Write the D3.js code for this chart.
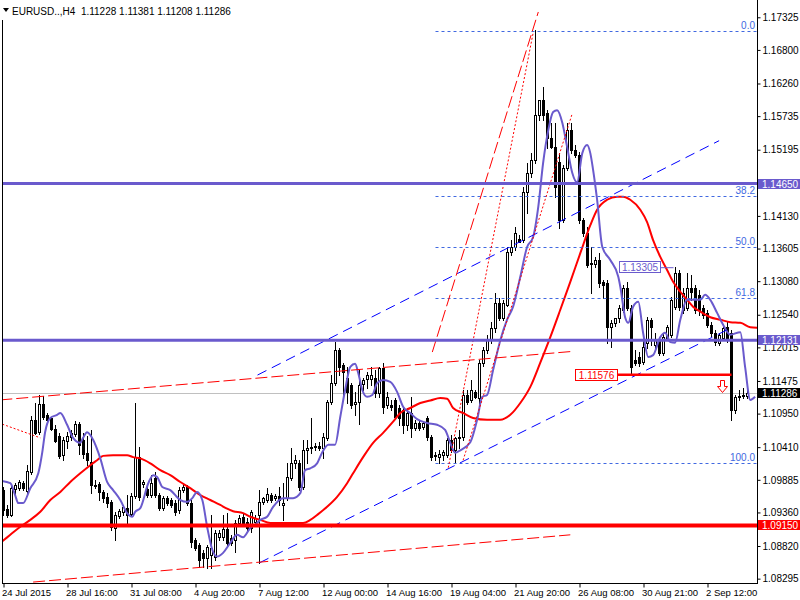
<!DOCTYPE html>
<html><head><meta charset="utf-8">
<script src="https://cdn.jsdelivr.net/npm/d3@7"></script>
<style>body{margin:0;background:#fff}svg text{font-family:"Liberation Sans",Arial,sans-serif}</style>
</head><body><svg id="c" width="800" height="600"></svg>
<script>
const headerText = "EURUSD..,H4  1.11228 1.11381 1.11208 1.11286";
const opens = [1.0972,1.0942,1.0932,1.0974,1.0975,1.0983,1.0971,1.1001,1.1085,1.1065,1.1111,1.1093,1.1088,1.1070,1.1059,1.1028,1.1051,1.1057,1.1062,1.1078,1.1053,1.1032,1.1017,1.0980,1.0982,1.0969,1.0961,1.0953,1.0911,1.0930,1.0937,1.0943,1.0933,1.0962,1.1025,1.0982,1.0974,1.0964,1.0991,1.0964,1.0943,1.0959,1.0956,1.0951,1.0940,1.0972,1.0977,1.0951,1.0892,1.0884,1.0871,1.0863,1.0868,1.0865,1.0896,1.0896,1.0909,1.0895,1.0892,1.0919,1.0929,1.0921,1.0911,1.0921,1.0932,1.0953,1.0956,1.0964,1.0959,1.0962,1.0948,1.0959,1.0991,1.1015,1.1015,1.0977,1.1036,1.1040,1.1041,1.1043,1.1040,1.1056,1.1114,1.1144,1.1197,1.1173,1.1152,1.1141,1.1111,1.1114,1.1143,1.1151,1.1151,1.1152,1.1128,1.1168,1.1109,1.1109,1.1117,1.1104,1.1101,1.1077,1.1096,1.1072,1.1080,1.1073,1.1088,1.1057,1.1028,1.1025,1.1028,1.1028,1.1053,1.1036,1.1056,1.1057,1.1125,1.1117,1.1130,1.1120,1.1177,1.1197,1.1213,1.1233,1.1273,1.1249,1.1270,1.1355,1.1363,1.1376,1.1374,1.1451,1.1482,1.1503,1.1575,1.1600,1.1579,1.1538,1.1524,1.1500,1.1406,1.1490,1.1551,1.1519,1.1511,1.1406,1.1386,1.1337,1.1336,1.1342,1.1307,1.1305,1.1234,1.1241,1.1249,1.1262,1.1297,1.1265,1.1181,1.1186,1.1178,1.1209,1.1246,1.1205,1.1213,1.1192,1.1217,1.1222,1.1267,1.1321,1.1262,1.1265,1.1297,1.1297,1.1286,1.1265,1.1257,1.1238,1.1225,1.1209,1.1217,1.1234,1.1225,1.1101,1.1122,1.1123,1.11228];
const highs = [1.0977,1.0948,1.0980,1.0983,1.0988,1.0986,1.1012,1.1091,1.1112,1.1125,1.1123,1.1096,1.1090,1.1077,1.1064,1.1057,1.1065,1.1069,1.1083,1.1082,1.1064,1.1059,1.1069,1.0988,1.0985,1.0972,1.0967,1.0956,1.0937,1.0942,1.0948,1.0964,1.0967,1.1112,1.1041,1.0988,1.0977,1.0996,1.1001,1.0967,1.0962,1.0962,1.0959,1.0956,1.0977,1.0980,1.0980,1.0956,1.0895,1.0887,1.0876,1.0884,1.0932,1.0908,1.0908,1.0932,1.0935,1.0900,1.0924,1.0932,1.0935,1.0927,1.0940,1.0932,1.0972,1.0961,1.0975,1.0967,1.0966,1.0977,1.0983,1.1015,1.1040,1.1028,1.1020,1.1053,1.1053,1.1088,1.1048,1.1049,1.1064,1.1117,1.1157,1.1210,1.1201,1.1177,1.1170,1.1144,1.1130,1.1165,1.1152,1.1162,1.1170,1.1165,1.1170,1.1177,1.1130,1.1117,1.1120,1.1109,1.1106,1.1104,1.1122,1.1085,1.1085,1.1083,1.1091,1.1061,1.1033,1.1036,1.1036,1.1056,1.1061,1.1057,1.1069,1.1133,1.1133,1.1149,1.1133,1.1181,1.1202,1.1222,1.1242,1.1289,1.1281,1.1278,1.1363,1.1374,1.1395,1.1383,1.1459,1.1498,1.1514,1.1712,1.1600,1.1620,1.1583,1.1563,1.1563,1.1514,1.1495,1.1563,1.1563,1.1527,1.1516,1.1410,1.1395,1.1363,1.1347,1.1353,1.1310,1.1310,1.1246,1.1249,1.1270,1.1302,1.1307,1.1270,1.1197,1.1194,1.1213,1.1250,1.1249,1.1225,1.1218,1.1225,1.1238,1.1283,1.13305,1.1326,1.1297,1.1321,1.1318,1.1302,1.1294,1.1270,1.1262,1.1242,1.1230,1.1225,1.1238,1.1242,1.1230,1.1125,1.1133,1.1136,1.11381];
const lows = [1.0932,1.0929,1.0930,1.0961,1.0972,1.0972,1.0967,1.0998,1.1062,1.1062,1.1086,1.1082,1.1069,1.1049,1.1023,1.1020,1.1040,1.1053,1.1059,1.1030,1.1023,1.1012,1.0967,1.0975,1.0956,1.0953,1.0945,1.0908,1.0892,1.0927,1.0932,1.0919,1.0930,1.0959,1.0956,1.0977,1.0961,1.0961,1.0961,1.0940,1.0940,1.0948,1.0945,1.0932,1.0935,1.0969,1.0948,1.0880,1.0876,1.0849,1.0849,1.0847,1.0847,1.0860,1.0892,1.0892,1.0884,1.0884,1.0872,1.0916,1.0916,1.0908,1.0905,1.0916,1.0855,1.0949,1.0953,1.0953,1.0956,1.0948,1.0924,1.0956,1.0988,1.1007,1.0972,1.0974,1.1015,1.1032,1.1036,1.1036,1.1023,1.1053,1.1111,1.1141,1.1157,1.1122,1.1112,1.1104,1.1093,1.1078,1.1133,1.1136,1.1141,1.1122,1.1122,1.1096,1.1104,1.1101,1.1088,1.1077,1.1064,1.1069,1.1057,1.1069,1.1069,1.1070,1.1053,1.1020,1.1020,1.1015,1.1020,1.1025,1.1033,1.1015,1.1040,1.1053,1.1111,1.1114,1.1120,1.1106,1.1172,1.1192,1.1209,1.1226,1.1246,1.1246,1.1268,1.1350,1.1358,1.1371,1.1371,1.1418,1.1476,1.1498,1.1567,1.1567,1.1522,1.1522,1.1443,1.1394,1.1403,1.1487,1.1514,1.1508,1.1401,1.1381,1.1331,1.1289,1.1331,1.1299,1.1281,1.1209,1.1202,1.1236,1.1242,1.1259,1.1262,1.11576,1.1173,1.1172,1.1175,1.1201,1.1205,1.1201,1.1189,1.1189,1.1213,1.1218,1.1263,1.1262,1.1257,1.1262,1.1278,1.1257,1.1254,1.1249,1.1234,1.1220,1.1205,1.1205,1.1213,1.1210,1.1085,1.1096,1.1117,1.1120,1.11208];
const closes = [1.0940,1.0932,1.0975,1.0980,1.0985,1.0975,1.1003,1.1085,1.1064,1.1111,1.1090,1.1085,1.1070,1.1051,1.1027,1.1053,1.1059,1.1064,1.1078,1.1045,1.1030,1.1020,1.0980,1.0978,1.0969,1.0959,1.0951,1.0913,1.0932,1.0938,1.0945,1.0932,1.0962,1.1025,1.0961,1.0985,1.0964,1.0983,1.0964,1.0943,1.0959,1.0951,1.0948,1.0937,1.0972,1.0977,1.0951,1.0888,1.0879,1.0860,1.0863,1.0880,1.0879,1.0903,1.0903,1.0909,1.0887,1.0887,1.0919,1.0927,1.0919,1.0911,1.0937,1.0927,1.0953,1.0959,1.0966,1.0956,1.0962,1.0956,1.0951,1.0993,1.1015,1.1020,1.0977,1.1036,1.1040,1.1041,1.1043,1.1040,1.1057,1.1114,1.1144,1.1197,1.1170,1.1162,1.1130,1.1109,1.1114,1.1141,1.1149,1.1157,1.1157,1.1128,1.1168,1.1106,1.1122,1.1106,1.1090,1.1088,1.1077,1.1096,1.1072,1.1080,1.1072,1.1080,1.1057,1.1025,1.1027,1.1030,1.1033,1.1053,1.1036,1.1056,1.1057,1.1125,1.1114,1.1133,1.1122,1.1177,1.1197,1.1213,1.1233,1.1273,1.1249,1.1273,1.1355,1.1363,1.1386,1.1371,1.1451,1.1482,1.1503,1.1575,1.1600,1.1575,1.1538,1.1524,1.1459,1.1406,1.1490,1.1551,1.1519,1.1511,1.1406,1.1386,1.1334,1.1336,1.1342,1.1305,1.1302,1.1234,1.1241,1.1249,1.1265,1.1297,1.1265,1.1170,1.1177,1.1177,1.1202,1.1246,1.1234,1.1213,1.1192,1.1218,1.1234,1.1278,1.1321,1.1267,1.1289,1.1297,1.1291,1.1262,1.1262,1.1254,1.1238,1.1225,1.1210,1.1222,1.1233,1.1213,1.1101,1.1122,1.1123,1.1125,1.11286];

const fastMaIdx = [-0.8,1.7,2.9,3.7,4.9,6.7,8.7,9.7,10.4,11.7,13.4,14.2,15.9,17.4,19.2,19.9,20.9,22.4,24.2,25.9,27.4,29.2,30.9,32.2,32.9,34.2,36.2,37.4,38.4,39.7,41.7,44.2,45.9,47.2,48.4,49.7,50.9,52.2,53.4,54.9,56.7,58.4,59.9,61.7,62.9,64.2,65.9,67.4,69.9,72.4,74.2,75.4,76.7,78.4,79.7,81.2,82.9,84.2,85.4,86.7,87.9,88.7,89.7,90.9,92.2,93.4,94.9,96.7,98.4,99.9,101.7,103.4,105.9,108.4,110.4,111.7,112.9,114.2,116.7,118.4,119.7,120.9,122.4,124.2,125.9,127.4,129.2,130.9,132.4,133.7,134.9,136.2,137.4,138.4,139.7,140.9,142.2,143.4,144.7,145.9,146.7,147.4,148.4,149.7,151.7,153.7,154.2,155.4,156.2,157.4,158.7,159.9,161.2,162.4,164.2,165.4,166.7,167.9,169.2,170.9,174.2,175.4,176.7,178.4,179.9,181.7,184.2,185.4,186.7,187.9];
const fastMaVal = [1.0987,1.0983,1.0964,1.0951,1.0951,1.0975,1.0999,1.1033,1.1065,1.1088,1.1093,1.1096,1.1077,1.1056,1.1048,1.1056,1.1065,1.1053,1.1023,1.0985,1.0972,1.0956,1.0935,1.0929,1.0937,1.0943,1.0983,1.0996,1.0993,1.0977,1.0972,1.0956,1.0953,1.0959,1.0969,1.0956,1.0913,1.0876,1.0865,1.0871,1.0887,1.0900,1.0896,1.0911,1.0916,1.0924,1.0929,1.0945,1.0959,1.0959,1.0967,1.1004,1.1007,1.1015,1.1033,1.1045,1.1045,1.1090,1.1133,1.1170,1.1175,1.1160,1.1133,1.1122,1.1125,1.1144,1.1149,1.1146,1.1130,1.1106,1.1096,1.1086,1.1080,1.1077,1.1069,1.1048,1.1032,1.1036,1.1049,1.1085,1.1122,1.1125,1.1165,1.1213,1.1246,1.1267,1.1315,1.1363,1.1379,1.1428,1.1498,1.1551,1.1580,1.1583,1.1563,1.1524,1.1482,1.1467,1.1514,1.1527,1.1514,1.1487,1.1439,1.1363,1.1342,1.1315,1.1299,1.1250,1.1241,1.1267,1.1275,1.1225,1.1186,1.1189,1.1218,1.1225,1.1210,1.1209,1.1246,1.1278,1.1278,1.1286,1.1278,1.1257,1.1238,1.1222,1.1226,1.1170,1.1117,1.1122];
const slowMaIdx = [-0.8,1.7,4.2,6.7,9.2,11.7,14.2,16.7,19.2,21.7,23.4,24.9,27.4,30.9,32.4,34.2,36.7,39.2,41.7,44.2,46.7,49.2,51.7,54.2,55.9,57.4,59.9,61.7,64.2,66.7,69.9,74.9,76.7,78.4,80.9,83.4,85.9,87.4,89.9,92.4,94.9,97.4,99.2,101.7,104.2,106.7,109.2,110.9,112.4,114.9,117.4,120.9,124.2,126.7,129.2,131.7,134.2,136.7,139.2,141.7,144.2,146.7,148.4,150.9,153.4,154.9,156.7,159.2,160.9,162.4,164.2,165.9,167.4,169.2,170.9,172.4,174.2,176.7,179.2,181.7,184.2,186.7,188.4];
const slowMaVal = [1.0887,1.0900,1.0913,1.0924,1.0937,1.0956,1.0969,1.0985,1.0999,1.1012,1.1020,1.1027,1.1028,1.1028,1.1025,1.1023,1.1015,1.1004,1.0996,1.0985,1.0975,1.0964,1.0956,1.0948,1.0942,1.0938,1.0935,1.0929,1.0924,1.0919,1.0919,1.0919,1.0924,1.0932,1.0945,1.0961,1.0983,1.0999,1.1025,1.1048,1.1064,1.1082,1.1096,1.1104,1.1112,1.1116,1.1120,1.1119,1.1104,1.1096,1.1088,1.1085,1.1085,1.1093,1.1112,1.1138,1.1177,1.1218,1.1262,1.1307,1.1353,1.1398,1.1423,1.1439,1.1444,1.1444,1.1439,1.1423,1.1403,1.1374,1.1347,1.1326,1.1307,1.1291,1.1278,1.1267,1.1259,1.1250,1.1246,1.1242,1.1241,1.1234,1.1233];

const priceTicks = [1.17325,1.16800,1.16260,1.15735,1.15195,1.14130,1.13605,1.13080,1.12540,1.12015,1.11475,1.10950,1.10410,1.09885,1.09360,1.08820,1.08295];
const timeTickIdx = [0,16,32,48,64,80,96,112,128,144,160,176];
const timeLabels = ["24 Jul 2015","28 Jul 16:00","31 Jul 08:00","4 Aug 20:00","7 Aug 12:00","12 Aug 00:00","14 Aug 16:00","19 Aug 04:00","21 Aug 20:00","26 Aug 08:00","30 Aug 21:00","2 Sep 12:00"];

const hLevelsBlue = [1.14650, 1.12131];
const hLevelRed = [1.09150];
const lastPrice = 1.11286;

const fibHigh = 1.17110, fibLow = 1.10160, fibStartIdx = 108;
const fibLevels = [0, 38.2, 50, 61.8, 100];
const fibLabels = ["0.0","38.2","50.0","61.8","100.0"];

const blueChannel = [{i1:64,p1:1.0855,i2:181,p2:1.1230},{i1:63.5,p1:1.1157,i2:178.9,p2:1.1534}];
const redDashed = [{i1:7.4,p1:1.0824,i2:141.7,p2:1.0900},{i1:-0.8,p1:1.1117,i2:142.2,p2:1.1195},{i1:107.2,p1:1.1194,i2:133.7,p2:1.1741}];
const redDotted = [{i1:-0.3,p1:1.1078,i2:9.2,p2:1.1056},{i1:111.2,p1:1.1008,i2:132.4,p2:1.1707},{i1:114.9,p1:1.1020,i2:142.2,p2:1.1578}];

const highLabel = {idx:168, price:1.13305, text:"1.13305"};
const lowLabel = {idx:157, endIdx:182, price:1.11576, text:"1.11576"};
const arrowSignal = {idx:179.5, price:1.1149};

const SB = "#6a5acd";
const svg = d3.select("#c");
const L = 2, R = 757, T = 0, B = 583;
const x = d3.scaleLinear().domain([0,186]).range([3.5,747.5]);
const y = d3.scaleLinear().domain([1.08225,1.17603]).range([B,T]);

svg.append("defs").append("clipPath").attr("id","clip").append("rect")
  .attr("x",L).attr("y",T).attr("width",R-L).attr("height",B-T);
const g = svg.append("g").attr("clip-path","url(#clip)");

// current price line
g.append("line").attr("x1",L).attr("x2",R).attr("y1",Math.round(y(lastPrice))+0.5).attr("y2",Math.round(y(lastPrice))+0.5)
  .attr("stroke","#c0c0c0").attr("stroke-width",1);

// candles
const idx = d3.range(opens.length);
const cg = g.append("g");
idx.forEach(i=>{
  const xc = x(i);
  const o=opens[i], c=closes[i];
  const yh = Math.round(y(highs[i])), yl = Math.round(y(lows[i]));
  cg.append("line").attr("x1",xc).attr("x2",xc).attr("y1",yh).attr("y2",yl+1).attr("stroke","#000").attr("stroke-width",1);
  const yt = Math.round(y(Math.max(o,c))), yb = Math.round(y(Math.min(o,c)));
  const bull = c >= o;
  cg.append("rect").attr("x",xc-1).attr("y",yt+0.5).attr("width",2).attr("height",Math.max(0,yb-yt))
    .attr("fill", bull ? "#fff" : "#000").attr("stroke","#000").attr("stroke-width",1);
});

// moving averages
const lineGen = d3.line().x(d=>x(d[0])).y(d=>y(d[1])).curve(d3.curveMonotoneX);
g.append("path").datum(slowMaIdx.map((d,k)=>[d,slowMaVal[k]])).attr("d",lineGen)
  .attr("fill","none").attr("stroke","#ff0000").attr("stroke-width",2);
g.append("path").datum(fastMaIdx.map((d,k)=>[d,fastMaVal[k]])).attr("d",lineGen)
  .attr("fill","none").attr("stroke",SB).attr("stroke-width",2);

// fibonacci
fibLevels.forEach((lv,k)=>{
  const p = fibHigh - lv/100*(fibHigh-fibLow);
  const yy = Math.round(y(p))+0.5;
  g.append("line").attr("x1",x(fibStartIdx)).attr("x2",R).attr("y1",yy).attr("y2",yy)
    .attr("stroke","#4169e1").attr("stroke-width",1).attr("stroke-dasharray","3,3");
  g.append("text").attr("x",755).attr("y",yy-3).attr("text-anchor","end")
    .attr("font-size","10px").attr("fill","#4169e1").text(fibLabels[k]);
});

// trend lines
function seg(d, color, dash){
  g.append("line").attr("x1",x(d.i1)).attr("y1",y(d.p1)).attr("x2",x(d.i2)).attr("y2",y(d.p2))
   .attr("stroke",color).attr("stroke-width",1).attr("stroke-dasharray",dash);
}
blueChannel.forEach(d=>seg(d,"#0000ff","10,6"));
redDashed.forEach(d=>seg(d,"#ff0000","12,4"));
redDotted.forEach(d=>seg(d,"#ff0000","2,2"));

// horizontal levels
hLevelsBlue.forEach(p=>{
  g.append("line").attr("x1",L).attr("x2",R).attr("y1",y(p)).attr("y2",y(p)).attr("stroke",SB).attr("stroke-width",3);
});
hLevelRed.forEach(p=>{
  g.append("line").attr("x1",L).attr("x2",R).attr("y1",y(p)).attr("y2",y(p)).attr("stroke","#ff0000").attr("stroke-width",4);
});

// high label
{
  const yy = y(highLabel.price);
  const bx1 = x(highLabel.idx)-56, bx2 = x(highLabel.idx)-15;
  g.append("line").attr("x1",bx2).attr("x2",x(highLabel.idx)-2).attr("y1",yy+0.5).attr("y2",yy+0.5).attr("stroke",SB).attr("stroke-width",1);
  g.append("rect").attr("x",bx1).attr("y",Math.round(yy)-5.5).attr("width",bx2-bx1).attr("height",11)
    .attr("fill","#fff").attr("stroke",SB).attr("stroke-width",1);
  g.append("text").attr("x",(bx1+bx2)/2).attr("y",Math.round(yy)+4).attr("text-anchor","middle")
    .attr("font-size","10px").attr("fill",SB).text(highLabel.text);
}
// low label
{
  const yy = y(lowLabel.price);
  const bx2 = x(lowLabel.idx)-14, bx1 = bx2-42;
  g.append("line").attr("x1",bx2).attr("x2",x(lowLabel.endIdx)).attr("y1",yy).attr("y2",yy).attr("stroke","#ff0000").attr("stroke-width",2.5);
  g.append("rect").attr("x",bx1).attr("y",Math.round(yy)-5.5).attr("width",bx2-bx1).attr("height",11)
    .attr("fill","#fff").attr("stroke","#ff0000").attr("stroke-width",1);
  g.append("text").attr("x",(bx1+bx2)/2).attr("y",Math.round(yy)+4).attr("text-anchor","middle")
    .attr("font-size","10px").attr("fill","#ff0000").text(lowLabel.text);
}
// arrow
{
  const cx = Math.round(x(arrowSignal.idx))+0.5, ty = Math.round(y(arrowSignal.price))+0.5;
  const path = `M${cx-2},${ty} L${cx+2},${ty} L${cx+2},${ty+6} L${cx+5},${ty+6} L${cx},${ty+12} L${cx-5},${ty+6} L${cx-2},${ty+6} Z`;
  g.append("path").attr("d",path).attr("fill","#fff").attr("stroke","#ff0000").attr("stroke-width",1);
}

// frame
svg.append("line").attr("x1",L+0.5).attr("x2",L+0.5).attr("y1",20).attr("y2",B+0.5).attr("stroke","#000");
svg.append("line").attr("x1",L).attr("x2",R+1).attr("y1",B+0.5).attr("y2",B+0.5).attr("stroke","#000");

// right axis
const ay = svg.append("g").attr("transform",`translate(${R+0.5},0)`)
  .call(d3.axisRight(y).tickValues(priceTicks).tickSize(3).tickSizeOuter(0).tickFormat(d3.format(".5f")));
ay.select(".domain").attr("d",`M0,${T}V${B+0.5}`);
ay.selectAll("text").attr("font-size","10px").attr("font-family","Liberation Sans, Arial, sans-serif").attr("fill","#000").attr("x",5);

// bottom axis
const ax = svg.append("g").attr("transform",`translate(0,${B+0.5})`)
  .call(d3.axisBottom(x).tickValues(timeTickIdx).tickSize(4).tickSizeOuter(0).tickFormat((d,k)=>timeLabels[k]));
ax.select(".domain").remove();
ax.selectAll("text").attr("text-anchor","start").attr("dx","-2").attr("y",6)
  .attr("font-size","9.5px").attr("font-family","Liberation Sans, Arial, sans-serif").attr("fill","#000");

// right side price tags
function tag(p, fill, txt){
  const yy = Math.round(y(p));
  svg.append("rect").attr("x",R+1).attr("y",yy-5).attr("width",800-R-1).attr("height",10).attr("fill",fill);
  svg.append("text").attr("x",R+5).attr("y",yy+4).attr("font-size","10px").attr("fill","#fff").text(txt);
}
hLevelsBlue.forEach(p=>tag(p,SB,d3.format(".5f")(p)));
tag(lastPrice,"#000",d3.format(".5f")(lastPrice));
hLevelRed.forEach(p=>tag(p,"#ff0000",d3.format(".5f")(p)));

// header
svg.append("path").attr("d","M3,8 L9,8 L6,12 Z").attr("fill","#000");
svg.append("text").attr("x",12).attr("y",15).attr("font-size","10px").attr("fill","#000")
  .attr("xml:space","preserve").style("white-space","pre").text(headerText);
</script></body></html>
